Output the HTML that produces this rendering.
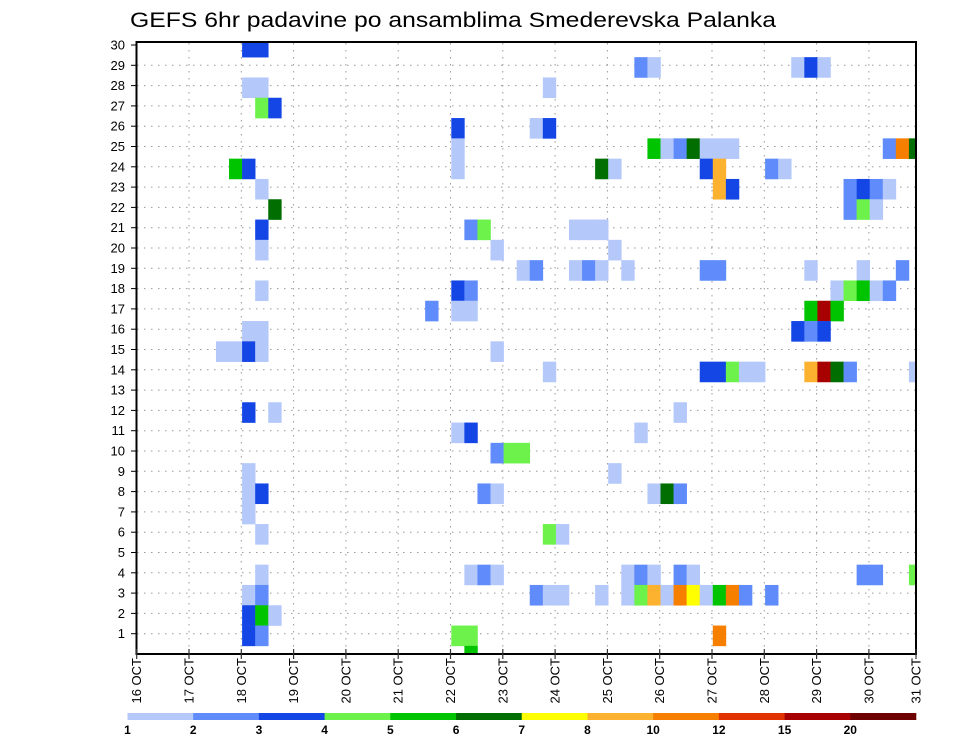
<!DOCTYPE html>
<html><head><meta charset="utf-8"><style>
html,body{margin:0;padding:0;background:#fff;}
svg{display:block;font-family:"Liberation Sans",sans-serif;}
</style></head><body>
<svg id="chart" width="960" height="742" viewBox="0 0 960 742" xmlns="http://www.w3.org/2000/svg">
<text x="130" y="27" font-size="21" textLength="646" lengthAdjust="spacingAndGlyphs" fill="#000">GEFS 6hr padavine po ansamblima Smederevska Palanka</text>
<defs><clipPath id="plotclip"><rect x="137" y="42" width="779" height="612"/></clipPath></defs>
<g id="grid"></g>
<g id="cells" clip-path="url(#plotclip)"></g>
<rect x="136.5" y="42" width="779.5" height="612" fill="none" stroke="#000" stroke-width="2"/>
<g id="yaxis"></g>
<g id="xaxis"></g>
<g id="legend"></g>
</svg>
<script>
// member labels
const members = [1,2,3,4,5,6,7,8,9,10,11,12,13,14,15,16,17,18,19,20,21,22,23,24,25,26,27,28,29,30];
// day tick labels
const dayLabels = ["16 OCT","17 OCT","18 OCT","19 OCT","20 OCT","21 OCT","22 OCT","23 OCT","24 OCT","25 OCT","26 OCT","27 OCT","28 OCT","29 OCT","30 OCT","31 OCT"];
// legend thresholds (mm)
const levels = [1,2,3,4,5,6,7,8,10,12,15,20];
const levelLabels = ["1","2","3","4","5","6","7","8","10","12","15","20"];
const levelColors = ["#b4c8fa","#5f8cfa","#1446e6","#6cf24a","#00c400","#006e00","#ffff00","#fdb22f","#f77f00","#e23200","#a80000","#6e0000"];
// cell data: 6-hour step index since 16 OCT 00Z, ensemble member, precipitation mm
const cellStep = [8,9, 38,39,50,51,52, 8,9,31, 9,10, 24,30,31,
 24,39,40,41,42,43,44,45,57,58,59,
 7,8,24,35,36,43,44,48,49,
 9,44,45,54,55,56,57,
 10,54,55,56,
 9,25,26,33,34,35,
 9,27,36,
 29,30,33,34,35,37,43,44,51,55,58,
 9,24,25,53,54,55,56,57,
 22,24,25,51,52,53,
 8,9,50,51,52,
 6,7,8,9,27,
 31,43,44,45,46,47,51,52,53,54,59,
 8,10,41,
 24,25,38,
 27,28,29,
 8,36,
 8,9,26,27,39,40,41,
 8,
 9,31,32,
 9,25,26,27,37,38,39,41,42,55,56,59,
 8,9,30,31,32,35,37,38,39,40,41,42,43,44,45,46,48,
 8,9,10,
 8,9,24,25,44,
 25];
const cellMember = [30,30, 29,29,29,29,29, 28,28,28, 27,27, 26,26,26,
 25,25,25,25,25,25,25,25,25,25,25,
 24,24,24,24,24,24,24,24,24,
 23,23,23,23,23,23,23,
 22,22,22,22,
 21,21,21,21,21,21,
 20,20,20,
 19,19,19,19,19,19,19,19,19,19,19,
 18,18,18,18,18,18,18,18,
 17,17,17,17,17,17,
 16,16,16,16,16,
 15,15,15,15,15,
 14,14,14,14,14,14,14,14,14,14,14,
 12,12,12,
 11,11,11,
 10,10,10,
 9,9,
 8,8,8,8,8,8,8,
 7,
 6,6,6,
 4,4,4,4,4,4,4,4,4,4,4,4,
 3,3,3,3,3,3,3,3,3,3,3,3,3,3,3,3,3,
 2,2,2,
 1,1,1,1,1,
 0];
const cellValue = [3.5,3.5, 2.5,1.5,1.5,3.5,1.5, 1.5,1.5,1.5, 4.5,3.5, 3.5,1.5,3.5,
 1.5,5.5,1.5,2.5,6.5,1.5,1.5,1.5,2.5,11,6.5,
 5.5,3.5,1.5,6.5,1.5,3.5,9,2.5,1.5,
 1.5,9,3.5,2.5,3.5,2.5,1.5,
 6.5,2.5,4.5,1.5,
 3.5,2.5,4.5,1.5,1.5,1.5,
 1.5,1.5,1.5,
 1.5,2.5,1.5,2.5,1.5,1.5,2.5,2.5,1.5,1.5,2.5,
 1.5,3.5,2.5,1.5,4.5,5.5,1.5,2.5,
 2.5,1.5,1.5,5.5,17,5.5,
 1.5,1.5,3.5,2.5,3.5,
 1.5,1.5,3.5,1.5,1.5,
 1.5,3.5,3.5,4.5,1.5,1.5,9,17,6.5,2.5,1.5,
 3.5,1.5,1.5,
 1.5,3.5,1.5,
 2.5,4.5,4.5,
 1.5,1.5,
 1.5,3.5,2.5,1.5,1.5,6.5,2.5,
 1.5,
 1.5,4.5,1.5,
 1.5,1.5,2.5,1.5,1.5,2.5,1.5,2.5,1.5,2.5,2.5,4.5,
 1.5,2.5,2.5,1.5,1.5,1.5,1.5,4.5,9,1.5,11,7.5,1.5,5.5,11,2.5,2.5,
 3.5,5.5,1.5,
 3.5,2.5,4.5,4.5,11,
 5.5];

const NS="http://www.w3.org/2000/svg";
const X0=136.7, DAY=52.3, STEP=DAY/4, LEFT=137, RIGHT=916;
const Y0=654, ROW=20.3;
function xDay(d){return X0+DAY*d;}
function xStep(k){return X0+0.8+STEP*k;}
function yMem(m){return Y0-ROW*m;}
function colorFor(v){let idx=0;for(let i=0;i<levels.length;i++){if(v>=levels[i])idx=i;}return levelColors[idx];}
function mk(tag,attrs,parent){const e=document.createElementNS(NS,tag);for(const k in attrs)e.setAttribute(k,attrs[k]);parent.appendChild(e);return e;}

const grid=document.getElementById('grid');
for(let m=1;m<=29;m++){
  const l=mk('line',{x1:LEFT,x2:RIGHT,y1:yMem(m),y2:yMem(m),stroke:'#9a9a9a','stroke-width':1,'stroke-dasharray':'1.5,5.5'},grid);
  
  
}
for(let d=1;d<dayLabels.length;d++){
  const x=xDay(d); if(x>RIGHT-2)continue;
  const l=mk('line',{x1:x,x2:x,y1:43,y2:654,stroke:'#9a9a9a','stroke-width':1,'stroke-dasharray':'1.5,5.5'},grid);
  
  
}

const cells=document.getElementById('cells');
for(let i=0;i<cellStep.length;i++){
  const r=mk('rect',{x:xStep(cellStep[i]),y:yMem(cellMember[i])-ROW/2+2,width:STEP+0.3,height:ROW+0.3,fill:colorFor(cellValue[i])},cells);
  
  
}

const ya=document.getElementById('yaxis');
members.forEach(m=>{
  const y=yMem(m);
  const t=mk('line',{x1:131,x2:137,y1:y,y2:y,stroke:'#000','stroke-width':1},ya);
  
  
  const tx=mk('text',{x:125,y:y+4.5,'font-size':13,'text-anchor':'end',fill:'#000'},ya);
  tx.textContent=String(m);
  
  
});

const xa=document.getElementById('xaxis');
dayLabels.forEach((lab,d)=>{
  let x=xDay(d); if(x>RIGHT)x=RIGHT;
  const t=mk('line',{x1:x,x2:x,y1:649,y2:659,stroke:'#333','stroke-width':1.2},xa);
  
  
  const tx=mk('text',{x:0,y:0,'font-size':13,'text-anchor':'end',fill:'#000',transform:`translate(${x+4.5},658) rotate(-90)`},xa);
  tx.textContent=lab;
  
  
});

const lg=document.getElementById('legend');
const LX=127.5, LW=(916-127.5)/levels.length;
levels.forEach((lv,i)=>{
  const r=mk('rect',{x:LX+LW*i,y:713,width:LW+0.3,height:7,fill:levelColors[i]},lg);
  
  
  const tx=mk('text',{x:LX+LW*i,y:734,'font-size':12,'font-weight':'bold','text-anchor':'middle',fill:'#000'},lg);
  tx.textContent=levelLabels[i];
  
  
});
</script>
</body></html>
